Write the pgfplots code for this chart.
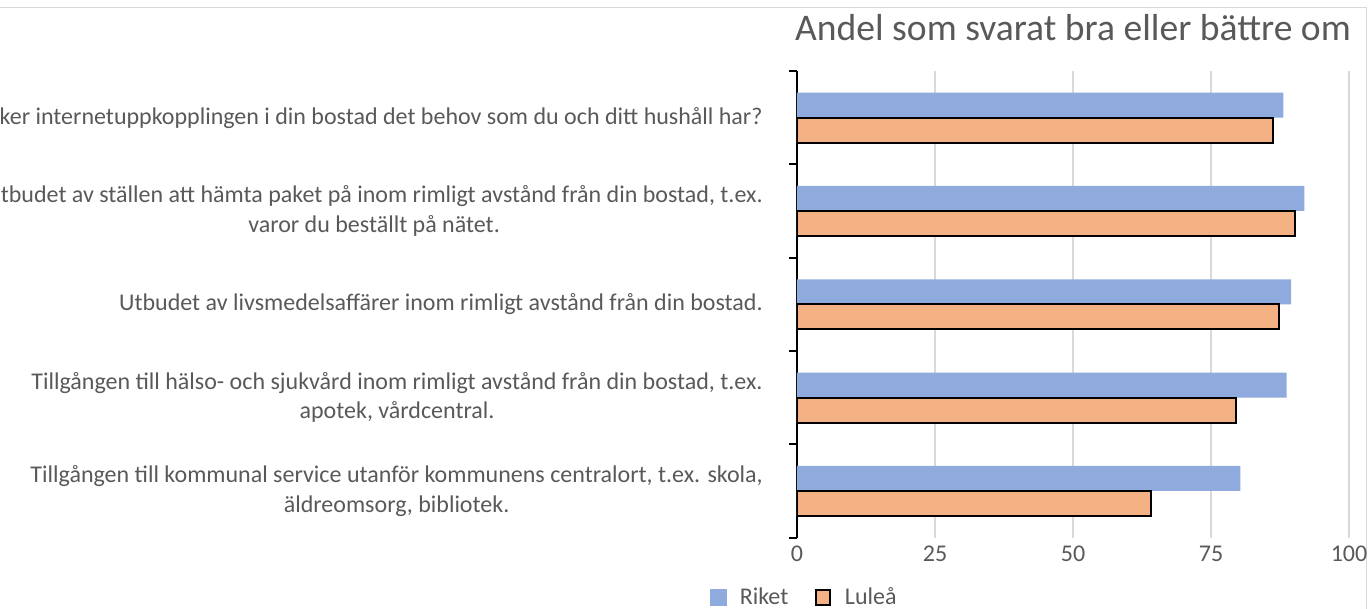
\documentclass[border=0pt]{standalone}
\usepackage{pgfplots}
\pgfplotsset{compat=1.18}
\usepackage{fontspec}
\setmainfont{Carlito}
\definecolor{riket}{HTML}{8FAADC}
\definecolor{lulea}{HTML}{F4B183}
\definecolor{txt}{HTML}{595959}
\definecolor{grd}{HTML}{D9D9D9}
\newcommand{\cfont}{\fontsize{18}{22}\selectfont}
\begin{document}
\begin{tikzpicture}
\useasboundingbox (0,0) rectangle (1027.5pt,-456.75pt);
\clip (0,0) rectangle (1027.5pt,-456.75pt);
\draw[grd, line width=0.75pt] (0,-6pt) -- (1024.5pt,-6pt) -- (1024.5pt,-456.75pt);
\begin{axis}[
  at={(597.75pt,-403.2pt)}, anchor=south west,
  scale only axis, width=414pt, height=350pt,
  xmin=0, xmax=100, ymin=-0.5, ymax=4.5,
  xbar, bar width=18.75pt,
  axis x line*=bottom, axis y line*=left,
  x axis line style={draw=none},
  y axis line style={black, line width=1.6pt},
  xtick={0,25,50,75,100},
  xmajorgrids, grid style={grd, line width=1.5pt},
  major x tick style={draw=none},
  xticklabel style={font=\cfont, text=txt, yshift=-2.5pt},
  /pgf/number format/assume math mode=true,
  ytick={0,1,2,3,4},
  major y tick style={draw=none},
  major tick length=0pt,
  yticklabels={
    {Tillgången till kommunal service utanför kommunens centralort, t.ex. skola,\\äldreomsorg, bibliotek.},
    {Tillgången till hälso- och sjukvård inom rimligt avstånd från din bostad, t.ex.\\apotek, vårdcentral.},
    {Utbudet av livsmedelsaffärer inom rimligt avstånd från din bostad.},
    {Utbudet av ställen att hämta paket på inom rimligt avstånd från din bostad, t.ex.\\varor du beställt på nätet.},
    {Täcker internetuppkopplingen i din bostad det behov som du och ditt hushåll har?}},
  yticklabel style={font=\cfont, text=txt, align=center, inner sep=0pt, xshift=-25.5pt},
  extra y ticks={-0.5,0.5,1.5,2.5,3.5,4.5},
  extra y tick labels={},
  extra y tick style={major tick length=6pt, tick align=outside, major y tick style={draw=black, line width=1.6pt}},
  title={Andel som svarat bra eller bättre om},
  title style={at={(0.5,1)}, anchor=base, yshift=16.5pt, text=txt, font=\fontsize{28.2}{32}\selectfont},
  legend columns=2,
  legend style={draw=none, fill=none, at={(0.013,-0.128)}, anchor=center, font=\cfont, text=txt,
    inner sep=0pt, nodes={inner sep=1pt},
    /tikz/every even column/.append style={column sep=19pt}},
]
\addplot[fill=riket, draw=none, bar shift=9.375pt,
  legend image code/.code={\fill[riket] (0pt,-6.4pt) rectangle (12.8pt,6.4pt); \path[draw=none,fill=none] (0pt,0pt) -- (21pt,0pt);}]
  coordinates {(80.3,0) (88.7,1) (89.5,2) (91.9,3) (88.1,4)};
\addlegendentry{Riket}
\addplot[fill=lulea, draw=black, line width=1.5pt, bar shift=-9.375pt,
  legend image code/.code={\filldraw[fill=lulea, draw=black, line width=1.5pt] (0.75pt,-5.6pt) rectangle (11.25pt,5.6pt); \path[draw=none,fill=none] (0pt,0pt) -- (21.5pt,0pt);}]
  coordinates {(64.2,0) (79.6,1) (87.4,2) (90.3,3) (86.3,4)};
\addlegendentry{Luleå}
\end{axis}
\end{tikzpicture}
\end{document}
